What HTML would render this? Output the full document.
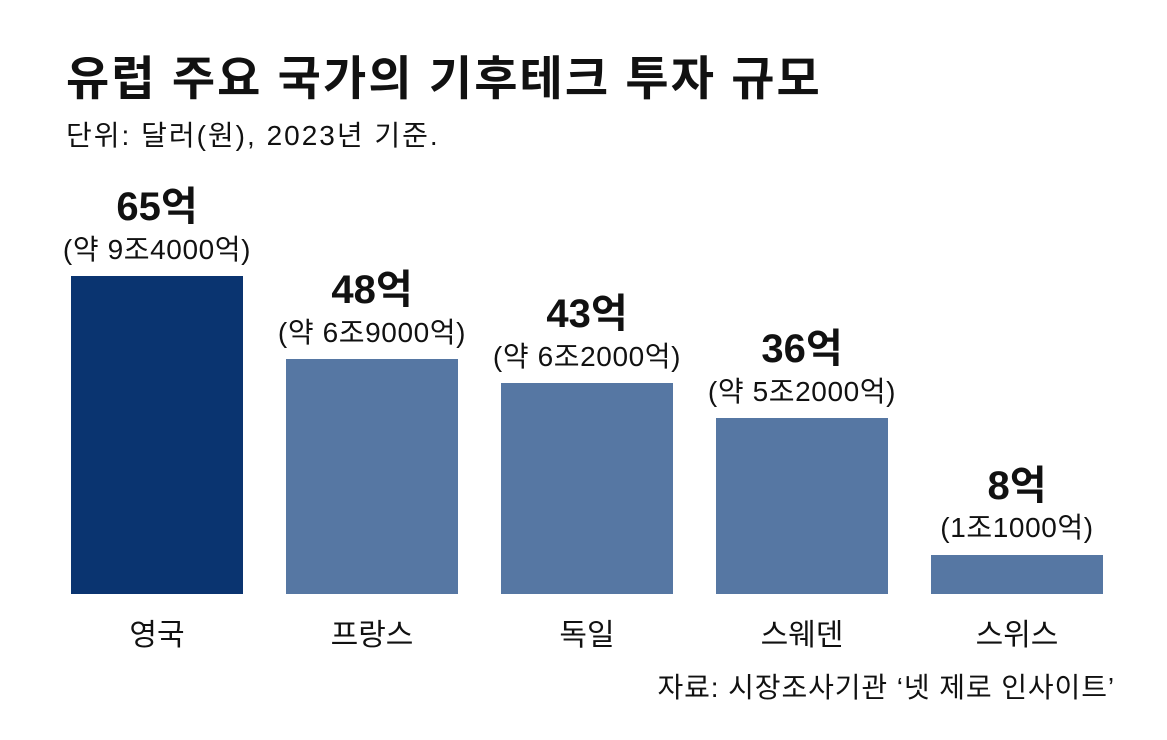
<!DOCTYPE html>
<html><head><meta charset="utf-8"><style>
body{margin:0;width:1167px;height:740px;background:#fff;position:relative;overflow:hidden;font-family:"Liberation Sans","Noto Sans CJK KR",sans-serif;color:#111}
.a{position:absolute;white-space:nowrap}
.bar{position:absolute;background:#5677a3}
.c{position:absolute;width:260px;text-align:center;white-space:nowrap}
.v{font-weight:bold;font-size:40px}
.s{font-size:28px;letter-spacing:0.6px}
.n{font-size:30px}
</style></head><body>
<div class="a" style="left:66px;top:40px;font-size:47px;font-weight:bold;letter-spacing:2.1px">유럽 주요 국가의 기후테크 투자 규모</div>
<div class="a" style="left:66px;top:114px;font-size:28px;letter-spacing:2px">단위: 달러(원), 2023년 기준.</div>

<div class="bar" style="left:71px;top:276px;width:172px;height:318px;background:#0a3470"></div>
<div class="bar" style="left:286px;top:359px;width:172px;height:235px"></div>
<div class="bar" style="left:501px;top:383px;width:172px;height:211px"></div>
<div class="bar" style="left:716px;top:418px;width:172px;height:176px"></div>
<div class="bar" style="left:931px;top:555px;width:172px;height:39px"></div>

<div class="c v" style="left:27px;top:174px">65억</div>
<div class="c s" style="left:27px;top:228px">(약 9조4000억)</div>
<div class="c v" style="left:242px;top:257px">48억</div>
<div class="c s" style="left:242px;top:311px">(약 6조9000억)</div>
<div class="c v" style="left:457px;top:281px">43억</div>
<div class="c s" style="left:457px;top:335px">(약 6조2000억)</div>
<div class="c v" style="left:672px;top:316px">36억</div>
<div class="c s" style="left:672px;top:370px">(약 5조2000억)</div>
<div class="c v" style="left:887px;top:453px">8억</div>
<div class="c s" style="left:887px;top:506px">(1조1000억)</div>

<div class="c n" style="left:27px;top:610px">영국</div>
<div class="c n" style="left:242px;top:610px">프랑스</div>
<div class="c n" style="left:457px;top:610px">독일</div>
<div class="c n" style="left:672px;top:610px">스웨덴</div>
<div class="c n" style="left:887px;top:610px">스위스</div>

<div class="a" style="right:52px;top:666px;font-size:28px;letter-spacing:0.9px">자료: 시장조사기관 ‘넷 제로 인사이트’</div>
</body></html>
